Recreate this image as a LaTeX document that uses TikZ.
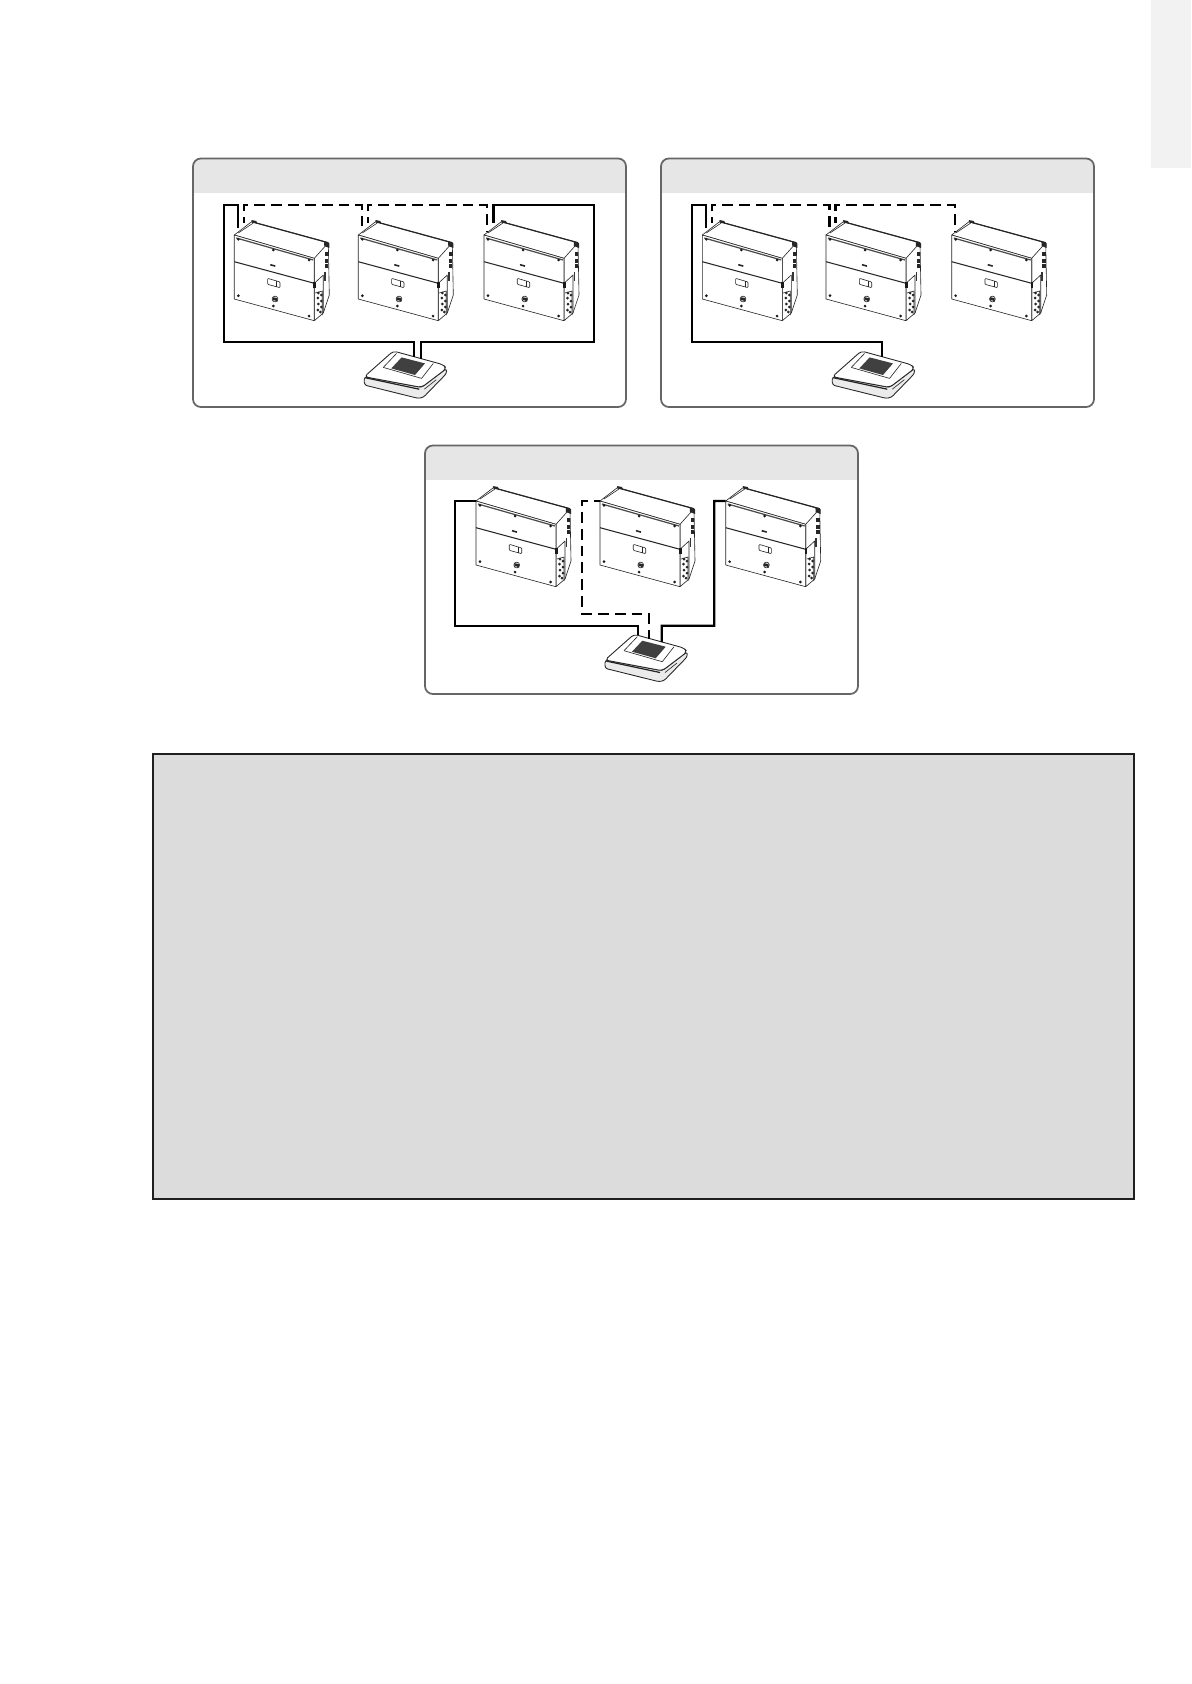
\documentclass[tikz,border=0pt]{standalone}
\usepackage{tikz}
\usetikzlibrary{arrows}

\definecolor{headgray}{HTML}{E6E6E6}
\definecolor{boxgray}{HTML}{DCDCDC}
\definecolor{tabgray}{HTML}{F2F2F2}

\tikzstyle{panel}=[draw=black!60,line width=1pt,rounded corners=4.5pt]
\tikzstyle{cable}=[black,line width=1.35pt,line join=miter]
\tikzstyle{dash cable}=[cable,dash pattern=on 6.2pt off 3.4pt,dash phase=3pt]
\tikzstyle{thin part}=[draw=black!85,line width=0.35pt,line join=round]
\tikzstyle{screw}=[circle,fill=black!90,inner sep=0pt,minimum size=1.7pt]

\tikzset{
  inverter/.pic={
    % side and top
    \path[thin part,fill=white] (0,0) -- (17.3,-13.3) -- (94,7.7) -- (95,60) -- (89,78) -- (80,85.7) -- (80,23.3) -- cycle;
    \draw[thin part] (80,23.3) -- (94,7.7);
    \draw[thin part] (4,-2) -- (19,-12);
    \draw[thin part,line width=0.7pt] (17.3,-13.3) -- (94,7.7);
    \draw[thin part,fill=white] (0,0) -- (80,23.3) -- (80,85.7) -- (0,64) -- cycle;
    \draw[black!70,line width=0.7pt] (2,3) -- (79,25);
    \draw[black!85,line width=0.6pt] (0,26.7) -- (80,48.3);
    \draw[thin part] (80,48.3) -- (89,40) -- (89,78);
    % small dark parts
    \fill[black!85] (17,-15) -- (22,-14) -- (23,-11.5) -- (18,-12.5) -- cycle;
    \fill[black!85] (89.7,6.7) -- (95,8.3) -- (95,13) -- (90,11) -- cycle;
    \foreach \yy in {17,23.5,29} \fill[black!85] (90.6,\yy) rectangle +(3.4,4);
    \fill[black!80] (89.5,37) rectangle (91.2,46);
    \fill[black!90] (79,47) rectangle (81.5,53);
    \draw[thin part] (81,58) -- (88,56) -- (88,80);
    \foreach \xx/\yy in {84/58,87/60,83.5/63,87/66,84/69,87/72,83.5/75,86/77}
      \fill[black!85] (\xx,\yy) circle (1.5);
    \draw[black!85,line width=0.9pt] (36,29.7) -- (41,31.1);
    % screws
    \foreach \xx/\yy [count=\ii] in {4/4.3,39/15,74.7/25,4/60.7,39/71,74.7/81}
      \node[screw] (-s\ii) at (\xx,\yy) {};
    % display and knob
    \draw[thin part,rounded corners=0.5pt] (33.3,43.3) -- (45.7,47) -- (45.7,52.7) -- (33.3,49.3) -- cycle;
    \draw[thin part] (42.5,46) -- (42.5,51.8);
    \draw[thin part,fill=white] (40.7,64) circle (2.9);
    \fill[black!85] (38.5,62.2) -- (42.8,63) -- (43.2,66.8) -- (40.5,65.2) -- (38.4,65.6) -- cycle;
    % ports
    \coordinate (-in) at (3.5,-7);
    \coordinate (-out) at (9.5,-12);
    \coordinate (-mid) at (3,-3);
    \coordinate (-left) at (0,0);
  },
  router/.pic={
    \draw[thin part,fill=black!8,line width=0.5pt,rounded corners=1.5pt] (0,0) -- (0,8.3) -- (54,21.7) -- (59,20.7) -- (82.3,-3.3) -- (82.3,-8.3) -- (57.3,10.7) -- cycle;
    \draw[thin part,fill=white,line width=0.5pt,rounded corners=2pt] (0,0) -- (29,-25.7) -- (79,-12) -- (82.3,-8.3) -- (57.3,10.7) -- cycle;
    \draw[thin part] (19,-9.3) -- (32.3,-23.3);
    \draw[thin part] (19,-9.3) -- (57.3,1.7) -- (69,-13.3);
    \fill[black!75] (27,-8.3) -- (37.3,-19.3) -- (60.7,-13.3) -- (50.7,-1.7) -- cycle;
    \draw[black!85,line width=0.7pt] (1,1) -- (55,12.5);
    \draw[thin part] (60,12.5) -- (72,3);
    \coordinate (-pa) at (32.7,-24.7);
    \coordinate (-pb) at (44.3,-21.5);
    \coordinate (-pc) at (50,-20);
    \coordinate (-pd) at (56.7,-18);
  }
}

\begin{document}

\begin{tikzpicture}[x=0.02cm,y=-0.02cm]

  \useasboundingbox (0,0) rectangle (1191,1684);

  % page tab
  \fill[tabgray] (1150.7,0) rectangle (1191,168);

  % three panels
  \foreach \nn/\xx/\yy in {one/193/158.5,two/661/158.5,three/425/445.5}
  {
    \begin{scope}[shift={(\xx,\yy)}]
      \fill[headgray,rounded corners=4.5pt] (0,0) rectangle (433,30);
      \fill[headgray] (0,20) rectangle (433,34.5);
      \draw[panel] (0,0) rectangle (433,248.5);
      \coordinate (\nn) at (0,0);
    \end{scope}
  }

  % panel one
  \path (234.3,235) pic (a1) {inverter}
        (358.3,235) pic (a2) {inverter}
        (484,235)   pic (a3) {inverter}
        (364.3,376.7) pic (ra) {router};

  \draw[cable] (a1-in) -- ++(0,-23) -- ++(-13.5,0) -- ++(0,137.3) -| (ra-pc);
  \draw[cable] (ra-pd) -- ++(0,-16.4) -- ++(173.3,0) -- ++(0,-137.3) -| (a3-out);
  \draw[dash cable] (a1-out) -- ++(0,-18) -| (a2-in);
  \draw[dash cable] (a2-out) -- ++(0,-18) -| (a3-mid);

  % panel two
  \path (702.3,235) pic (b1) {inverter}
        (826,235)   pic (b2) {inverter}
        (951.7,235) pic (b3) {inverter}
        (832.3,376.7) pic (rb) {router};

  \draw[cable] (b1-in) -- ++(0,-23) -- ++(-13.5,0) -- ++(0,137.3) -| (rb-pc);
  \draw[dash cable] (b1-out) -- ++(0,-18) -| (b2-in);
  \draw[dash cable] (b2-out) -- ++(0,-18) -| (b3-mid);

  % panel three
  \path (476,501)   pic (c1) {inverter}
        (600,501)   pic (c2) {inverter}
        (725.7,501) pic (c3) {inverter}
        (605,660)   pic (rc) {router};

  \draw[cable] (c1-left) -- ++(-21,0) -- ++(0,124.7) -| (rc-pa);
  \draw[cable] (rc-pd) -- ++(0,-16.3) -- ++(52.6,0) -- ++(0,-124.7) -- (c3-left);
  \draw[dash cable] (c2-left) -- ++(-17.7,0) -- ++(0,113.3) -| (rc-pb);

  % grey box
  \node[draw=black!88,fill=boxgray,line width=1.3pt,inner sep=0pt,minimum width=19.62cm,minimum height=8.89cm,anchor=north west] (note) at (152.2,753.2) {};

\end{tikzpicture}

\end{document}
